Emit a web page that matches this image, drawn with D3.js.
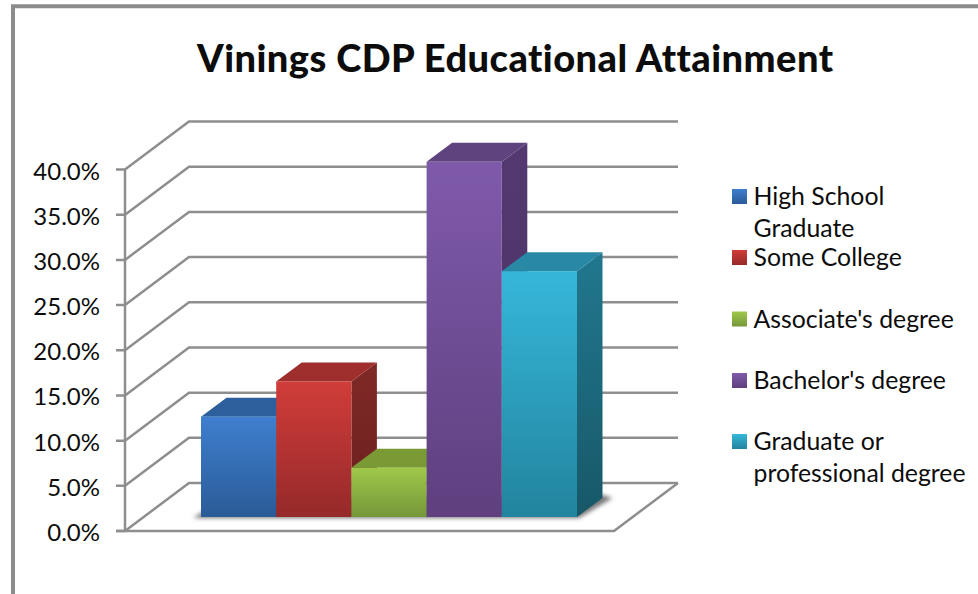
<!DOCTYPE html>
<html>
<head>
<meta charset="utf-8">
<script src="https://cdn.jsdelivr.net/npm/d3@7"></script>
<style>
  html, body { margin: 0; padding: 0; background: #fff; }
  svg { display: block; }
  text { font-family: Lato, "Open Sans", sans-serif; fill: #0c0c0c; font-variant-ligatures: none; }
</style>
</head>
<body>
<svg id="chart" width="978" height="594"></svg>
<script>
const chartTitle = "Vinings CDP Educational Attainment";
const categories = ["High School Graduate", "Some College", "Associate's degree", "Bachelor's degree", "Graduate or professional degree"];
const legendLines = [["High School", "Graduate"], ["Some College"], ["Associate's degree"], ["Bachelor's degree"], ["Graduate or", "professional degree"]];
const values = [11.1, 15.0, 5.45, 39.3, 27.2];
const tickValues = [0, 5, 10, 15, 20, 25, 30, 35, 40];
const frontColors = [["#3f7fce", "#2a5b97"], ["#d03d39", "#96292a"], ["#9fc94a", "#76973a"], ["#7f5aab", "#5f3f7e"], ["#36b7da", "#22849e"]];
const topColors = ["#2c5f9b", "#9e2f2c", "#7a9a35", "#5f437f", "#2888a5"];
const sideColors = [["#2a5688", "#23486f"], ["#7f2a27", "#6a1e1d"], ["#6d8a30", "#5a7327"], ["#53396f", "#4a3263"], ["#21788f", "#175868"]];

const svg = d3.select("#chart");
const y = d3.scaleLinear().domain([0, 40]).range([531, 169.5]);
const x = d3.scaleBand().domain(categories).range([201, 577]);

// Projection offsets of the oblique 3-D view
const wallDX = 64, wallDY = -48;
const barDX = 25.5, barDY = -19;
const floorLift = 14;
const plotLeft = 125, plotRight = 614;
const gridColor = "#8e8e8e";

const defs = svg.append("defs");
const addGradient = (id, stops) => {
  const g = defs.append("linearGradient").attr("id", id).attr("x1", 0).attr("y1", 0).attr("x2", 0).attr("y2", 1);
  g.append("stop").attr("offset", "0%").attr("stop-color", stops[0]);
  g.append("stop").attr("offset", "100%").attr("stop-color", stops[1]);
};
frontColors.forEach((c, i) => addGradient("front" + i, c));
sideColors.forEach((c, i) => addGradient("side" + i, c));
defs.append("filter").attr("id", "soft").attr("x", "-20%").attr("y", "-50%").attr("width", "140%").attr("height", "200%")
  .append("feGaussianBlur").attr("stdDeviation", 2.2);

// Outer chart frame, open past the right and bottom of the page
svg.append("path")
  .attr("d", d3.line()([[13, 600], [13, 6.3], [985, 6.3]]))
  .attr("fill", "none").attr("stroke", "#8c8c8c").attr("stroke-width", 4);

svg.append("text").attr("x", 515).attr("y", 71.5).attr("text-anchor", "middle")
  .attr("font-size", 38).attr("font-weight", 900).attr("textLength", 636).attr("lengthAdjust", "spacing").text(chartTitle);

// Back wall gridlines with their side wall returns
const grid = svg.append("g").attr("fill", "none").attr("stroke", gridColor).attr("stroke-width", 2.5);
tickValues.forEach(t => {
  const yf = y(t);
  grid.append("path").attr("d", d3.line()([[116, yf], [plotLeft, yf], [plotLeft + wallDX, yf + wallDY], [plotRight + wallDX, yf + wallDY]]));
});
// Front edge of the floor and its right return
grid.append("path").attr("d", d3.line()([[116, y(0)], [plotRight, y(0)], [plotRight + wallDX, y(0) + wallDY]]));
grid.append("path").attr("d", d3.line()([[plotLeft, y(0)], [plotLeft, y(40)]]));

// Value axis labels
svg.append("g").selectAll("text").data(tickValues).join("text")
  .attr("x", 100).attr("y", d => y(d) + 10).attr("text-anchor", "end").attr("font-size", 24)
  .text(d => d.toFixed(1) + "%");

// Soft shadow cast on the floor
const base = y(0) - floorLift;
const x0 = x.range()[0], x1 = x.range()[1];
svg.append("path")
  .attr("d", d3.line()([[x0 - 8, base + 1], [x1 + 2, base + 1], [x1 + barDX + 10, base + barDY], [x1 + barDX, base + barDY - 3], [x0 + barDX, base + barDY]]))
  .attr("fill", "#777").attr("filter", "url(#soft)");

// Bars, left to right so that each one overlaps its neighbour's side
const bars = svg.append("g").selectAll("g").data(values).join("g");
bars.each(function (v, i) {
  const g = d3.select(this);
  const l = x(categories[i]), r = l + x.bandwidth(), t = y(v) - floorLift;
  g.append("path").attr("fill", `url(#side${i})`)
    .attr("d", d3.line()([[r, t], [r + barDX, t + barDY], [r + barDX, base + barDY], [r, base]]));
  g.append("path").attr("fill", topColors[i])
    .attr("d", d3.line()([[l, t], [l + barDX, t + barDY], [r + barDX, t + barDY], [r, t]]));
  g.append("rect").attr("x", l).attr("y", t).attr("width", x.bandwidth()).attr("height", base - t)
    .attr("fill", `url(#front${i})`);
});

// Legend
const legendY = [197, 258, 319.5, 381, 442];
const legend = svg.append("g").selectAll("g").data(categories).join("g");
legend.each(function (c, i) {
  const g = d3.select(this);
  g.append("rect").attr("x", 732).attr("y", legendY[i] - 8).attr("width", 15).attr("height", 15)
    .attr("fill", `url(#front${i})`);
  legendLines[i].forEach((line, k) => {
    g.append("text").attr("x", 753.5).attr("y", legendY[i] + 8 + k * 32).attr("font-size", 24.8).text(line);
  });
});
</script>
</body>
</html>
